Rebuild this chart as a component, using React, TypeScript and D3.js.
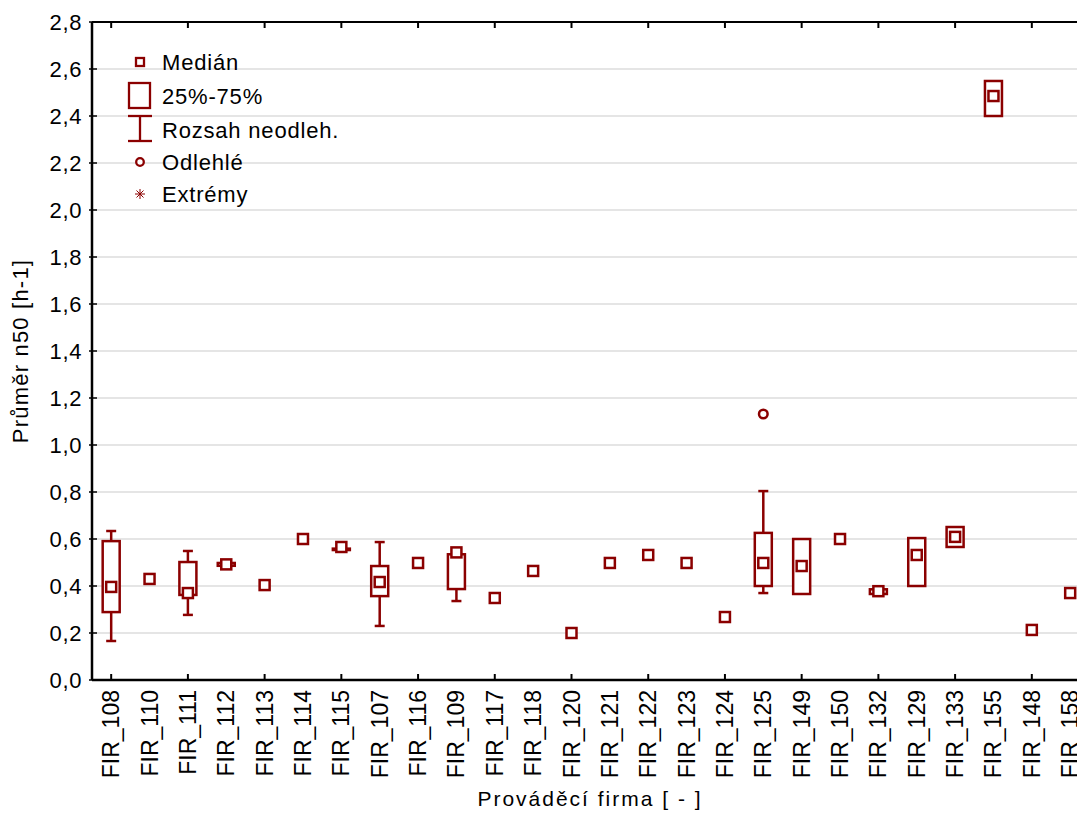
import React from "react";
import * as d3 from "d3";

const categories = ["FIR_108","FIR_110","FIR_111","FIR_112","FIR_113","FIR_114","FIR_115","FIR_107","FIR_116","FIR_109","FIR_117","FIR_118","FIR_120","FIR_121","FIR_122","FIR_123","FIR_124","FIR_125","FIR_149","FIR_150","FIR_132","FIR_129","FIR_133","FIR_155","FIR_148","FIR_158"];
const medians = [0.396,0.43,0.37,0.492,0.404,0.60,0.566,0.417,0.498,0.543,0.349,0.464,0.20,0.498,0.532,0.498,0.268,0.498,0.485,0.60,0.378,0.532,0.609,2.485,0.213,0.37];
const q1s = [0.289,0.43,0.362,0.486,0.404,0.60,0.553,0.357,0.498,0.387,0.349,0.464,0.20,0.498,0.532,0.498,0.268,0.40,0.366,0.60,0.366,0.40,0.566,2.40,0.213,0.37];
const q3s = [0.591,0.43,0.502,0.498,0.404,0.60,0.559,0.485,0.498,0.535,0.349,0.464,0.20,0.498,0.532,0.498,0.268,0.626,0.60,0.60,0.386,0.604,0.651,2.549,0.213,0.37];
const mins = [0.166,0.43,0.277,0.486,0.404,0.60,0.553,0.230,0.498,0.336,0.349,0.464,0.20,0.498,0.532,0.498,0.268,0.370,0.366,0.60,0.366,0.40,0.566,2.40,0.213,0.37];
const maxs = [0.634,0.43,0.549,0.498,0.404,0.60,0.559,0.587,0.498,0.540,0.349,0.464,0.20,0.498,0.532,0.498,0.268,0.804,0.60,0.60,0.386,0.604,0.651,2.549,0.213,0.37];
const outlierCats = ["FIR_125"];
const outlierVals = [1.132];
const yTicks = [0,0.2,0.4,0.6,0.8,1.0,1.2,1.4,1.6,1.8,2.0,2.2,2.4,2.6,2.8];
const legendLabels = ["Medián","25%-75%","Rozsah neodleh.","Odlehlé","Extrémy"];

const COLOR = "#8b0000";
const FONT = "'Liberation Sans', Arial, sans-serif";

export default function App() {
  const W = 1077, H = 822;
  const left = 92, top = 22, bottom = 680;
  const step = 38.36;
  const x = d3.scaleBand<string>().domain(categories).range([left, left + step * categories.length]).padding(0);
  const cx = (c: string) => (x(c) as number) + x.bandwidth() / 2;
  const y = d3.scaleLinear().domain([0, 2.8]).range([bottom, top]);
  const fmt = (v: number) => d3.format(".1f")(v).replace(".", ",");
  const boxW = 17, capW = 10, med = 10;
  const sw = 2.5;

  return (
    <svg width={W} height={H} style={{ position: "absolute", left: 0, top: 0, background: "#fff" }} fontFamily={FONT}>
      <rect x={0} y={0} width={W} height={H} fill="#fff" />
      {yTicks.map((t) => (
        <line key={"g" + t} x1={left} x2={W} y1={y(t)} y2={y(t)} stroke="#dcdcdc" strokeWidth={1.3} />
      ))}
      <g>
        <rect x={136} y={58} width={8} height={8} fill="#fff" stroke={COLOR} strokeWidth={2.3} />
        <rect x={129} y={83} width={21} height={25} fill="#fff" stroke={COLOR} strokeWidth={2.3} />
        <line x1={140} x2={140} y1={116} y2={141} stroke={COLOR} strokeWidth={2.3} />
        <line x1={128} x2={152} y1={116} y2={116} stroke={COLOR} strokeWidth={2.3} />
        <line x1={128} x2={152} y1={141} y2={141} stroke={COLOR} strokeWidth={2.3} />
        <circle cx={140} cy={162} r={3.8} fill="#fff" stroke={COLOR} strokeWidth={2.3} />
        <g stroke={COLOR} strokeWidth={1}>
          <line x1={135} x2={145} y1={194} y2={194} />
          <line x1={140} x2={140} y1={189} y2={199} />
          <line x1={136.5} x2={143.5} y1={190.5} y2={197.5} />
          <line x1={143.5} x2={136.5} y1={190.5} y2={197.5} />
        </g>
        {legendLabels.map((l, i) => (
          <text key={l} x={162} y={[62, 96, 130, 162, 194][i]} dominantBaseline="central" fontSize={22} letterSpacing={0.8} fill="#000">{l}</text>
        ))}
      </g>
      {categories.map((c, i) => {
        const xc = cx(c);
        const hasBox = q3s[i] - q1s[i] > 0.0001;
        const hasWhTop = maxs[i] - q3s[i] > 0.0001;
        const hasWhBot = q1s[i] - mins[i] > 0.0001;
        return (
          <g key={c} stroke={COLOR} strokeWidth={sw} fill="none">
            {hasWhTop && <line x1={xc} x2={xc} y1={y(maxs[i])} y2={y(q3s[i])} />}
            {hasWhTop && <line x1={xc - capW / 2} x2={xc + capW / 2} y1={y(maxs[i])} y2={y(maxs[i])} />}
            {hasWhBot && <line x1={xc} x2={xc} y1={y(q1s[i])} y2={y(mins[i])} />}
            {hasWhBot && <line x1={xc - capW / 2} x2={xc + capW / 2} y1={y(mins[i])} y2={y(mins[i])} />}
            {hasBox && <rect x={xc - boxW / 2} y={y(q3s[i])} width={boxW} height={y(q1s[i]) - y(q3s[i])} fill="#fff" />}
            <rect x={xc - med / 2} y={y(medians[i]) - med / 2} width={med} height={med} fill="#fff" />
          </g>
        );
      })}
      {outlierCats.map((c, i) => (
        <circle key={"o" + i} cx={cx(c)} cy={y(outlierVals[i])} r={4.3} fill="#fff" stroke={COLOR} strokeWidth={sw} />
      ))}
      <line x1={left} x2={W} y1={top} y2={top} stroke="#000" strokeWidth={2.2} />
      <line x1={left} x2={W} y1={bottom} y2={bottom} stroke="#000" strokeWidth={2.5} />
      <line x1={left} x2={left} y1={top} y2={bottom} stroke="#000" strokeWidth={2.5} />
      {yTicks.map((t) => (
        <g key={"t" + t}>
          <line x1={left - 3} x2={left + 5} y1={y(t)} y2={y(t)} stroke="#000" strokeWidth={1.5} />
          <text x={82} y={y(t)} textAnchor="end" dominantBaseline="central" fontSize={22} letterSpacing={0.6} fill="#000">{fmt(t)}</text>
        </g>
      ))}
      {categories.map((c, i) => (
        <g key={"x" + c}>
          {i % 2 === 0 && <line x1={cx(c)} x2={cx(c)} y1={bottom} y2={bottom - 6} stroke="#000" strokeWidth={2} />}
          {i % 2 === 0 && <line x1={cx(c)} x2={cx(c)} y1={top} y2={top + 6} stroke="#000" strokeWidth={2} />}
          <text transform={`translate(${cx(c)},690) rotate(-90)`} textAnchor="end" dominantBaseline="central" fontSize={23} fill="#000">{c}</text>
        </g>
      ))}
      <text transform={`translate(20,351) rotate(-90)`} textAnchor="middle" dominantBaseline="central" fontSize={22} letterSpacing={1.2} fill="#000">Průměr n50 [h-1]</text>
      <text x={590} y={806} textAnchor="middle" fontSize={21} letterSpacing={2} fill="#000">Prováděcí firma [ - ]</text>
    </svg>
  );
}
